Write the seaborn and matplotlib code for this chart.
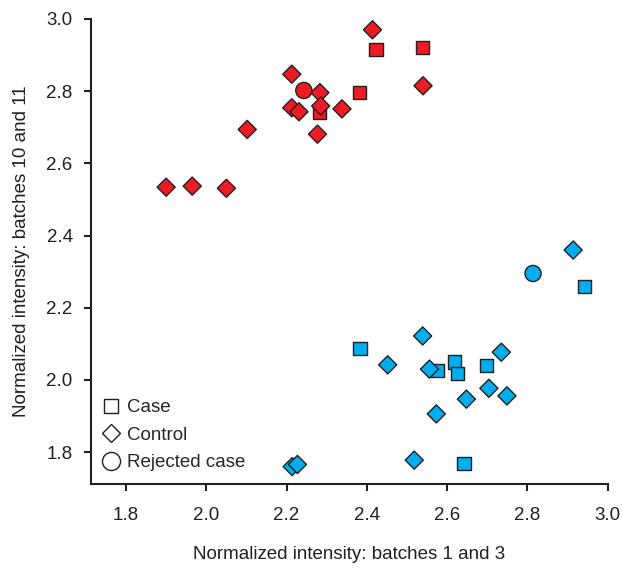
import matplotlib
matplotlib.use("Agg")
import matplotlib.pyplot as plt
from matplotlib.lines import Line2D
import seaborn as sns
import pandas as pd

# ---- data ----
red_case_x = [2.423, 2.381, 2.283, 2.539]
red_case_y = [2.916, 2.796, 2.740, 2.922]
red_control_x = [2.414, 2.213, 2.283, 2.213, 2.231, 2.285, 2.338, 2.102, 2.277, 1.900, 1.965, 2.050, 2.540]
red_control_y = [2.970, 2.847, 2.796, 2.754, 2.743, 2.759, 2.751, 2.694, 2.681, 2.534, 2.537, 2.531, 2.815]
red_rejected_x = [2.243]
red_rejected_y = [2.802]

blue_case_x = [2.943, 2.383, 2.577, 2.618, 2.626, 2.699, 2.642]
blue_case_y = [2.260, 2.087, 2.027, 2.050, 2.019, 2.039, 1.769]
blue_control_x = [2.914, 2.539, 2.452, 2.735, 2.556, 2.704, 2.749, 2.648, 2.573, 2.518, 2.214, 2.227]
blue_control_y = [2.360, 2.122, 2.042, 2.077, 2.030, 1.977, 1.956, 1.947, 1.906, 1.778, 1.760, 1.766]
blue_rejected_x = [2.814]
blue_rejected_y = [2.295]

legend_labels = ["Case", "Control", "Rejected case"]
x_ticks = [1.8, 2.0, 2.2, 2.4, 2.6, 2.8, 3.0]
y_ticks = [1.8, 2.0, 2.2, 2.4, 2.6, 2.8, 3.0]

RED = "#ED1C24"
BLUE = "#00AEEF"
EDGE = "#231F20"

rows = []
def add(group, kind, xs, ys):
    for x, y in zip(xs, ys):
        rows.append({"x": x, "y": y, "group": group, "kind": kind})

add("red", "Case", red_case_x, red_case_y)
add("blue", "Case", blue_case_x, blue_case_y)
add("red", "Control", red_control_x, red_control_y)
add("blue", "Control", blue_control_x, blue_control_y)
add("red", "Rejected case", red_rejected_x, red_rejected_y)
add("blue", "Rejected case", blue_rejected_x, blue_rejected_y)
df = pd.DataFrame(rows)

sns.set_style("ticks")
plt.rcParams["font.family"] = ["Liberation Sans", "DejaVu Sans"]

FS = 13.5

fig = plt.figure(figsize=(6.22, 5.75), dpi=100)
ax = fig.add_axes([0.1458, 0.1577, 0.977 - 0.1458, 0.967 - 0.1577])

sizes = {"Case": 90, "Control": 85, "Rejected case": 135}
markers = {"Case": "s", "Control": "D", "Rejected case": "o"}
for kind in legend_labels:
    sub = df[df["kind"] == kind]
    sns.scatterplot(data=sub, x="x", y="y", hue="group",
                    palette={"red": RED, "blue": BLUE},
                    marker=markers[kind], s=sizes[kind],
                    edgecolor=EDGE, linewidth=1.0, legend=False, ax=ax, zorder=3)

ax.set_xlim(1.712, 3.0)
ax.set_ylim(1.711, 3.0)
ax.set_xticks(x_ticks)
ax.set_yticks(y_ticks)
ax.set_xticklabels([f"{t:.1f}" for t in x_ticks])
ax.set_yticklabels([f"{t:.1f}" for t in y_ticks])
sns.despine(ax=ax)
for side in ["left", "bottom"]:
    ax.spines[side].set_linewidth(1.5)
    ax.spines[side].set_color(EDGE)
ax.tick_params(axis="both", direction="out", length=5, width=1.5, color=EDGE,
               labelsize=FS, labelcolor=EDGE)
ax.tick_params(axis="x", pad=11)
ax.tick_params(axis="y", pad=8)

ax.set_xlabel("Normalized intensity: batches 1 and 3", fontsize=FS, color=EDGE, labelpad=16)
ax.set_ylabel("Normalized intensity: batches 10 and 11", fontsize=FS, color=EDGE, labelpad=12)

handles = [
    Line2D([], [], marker="s", linestyle="none", markersize=10, markerfacecolor="white",
           markeredgecolor=EDGE, markeredgewidth=1.0),
    Line2D([], [], marker="D", linestyle="none", markersize=9.5, markerfacecolor="white",
           markeredgecolor=EDGE, markeredgewidth=1.0),
    Line2D([], [], marker="o", linestyle="none", markersize=13, markerfacecolor="white",
           markeredgecolor=EDGE, markeredgewidth=1.0),
]
ax.legend(handles, legend_labels, loc="lower left", frameon=False, fontsize=FS,
          handlelength=0.8, handletextpad=0.45, labelspacing=0.55,
          borderaxespad=0.3, bbox_to_anchor=(0.0, 0.0))

fig.savefig("out.png", dpi=100)
